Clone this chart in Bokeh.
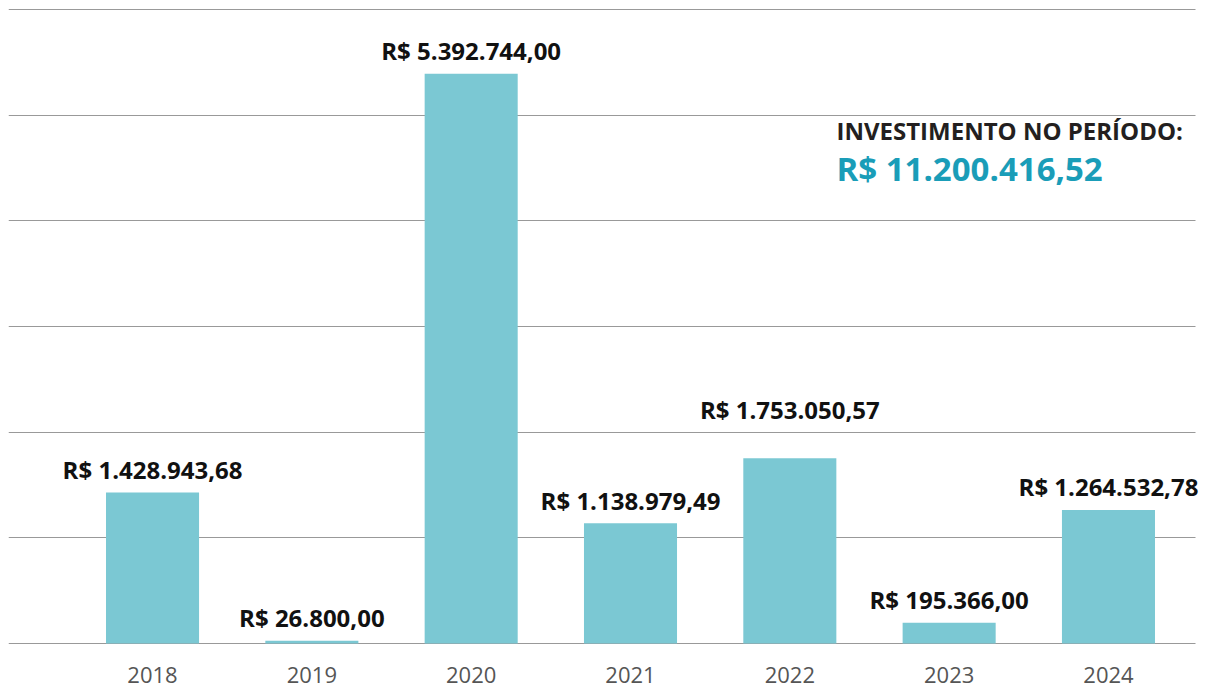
from bokeh.plotting import figure
from bokeh.models import ColumnDataSource, FixedTicker, Label
from bokeh.embed import file_html
from bokeh.resources import INLINE

years = [2018, 2019, 2020, 2021, 2022, 2023, 2024]
values = [1428943.68, 26800.00, 5392744.00, 1138979.49, 1753050.57, 195366.00, 1264532.78]
labels = ["R$ 1.428.943,68", "R$ 26.800,00", "R$ 5.392.744,00", "R$ 1.138.979,49",
          "R$ 1.753.050,57", "R$ 195.366,00", "R$ 1.264.532,78"]
grid_ticks = [0, 1000000, 2000000, 3000000, 4000000, 5000000, 6000000]
total_title = "INVESTIMENTO NO PERÍODO:"
total_value = "R$ 11.200.416,52"

FONT = "Open Sans"
px = 6000000 / 634
X0, X_GRID_END, X1 = 2017.096, 2024.547, 2024.609

p = figure(width=1205, height=691, output_backend="svg", toolbar_location=None,
           x_range=(X0, X1), y_range=(-px, 6000000 + px),
           min_border_left=8, min_border_right=0, min_border_top=8, min_border_bottom=47)
p.outline_line_color = None
p.background_fill_color = "white"
p.border_fill_color = "white"

src = ColumnDataSource(dict(x=years, top=values, label=labels))
p.vbar(x="x", top="top", bottom=0, width=0.584, source=src,
       fill_color="#7BC8D3", line_color=None)

for yr, v, lab in zip(years, values, labels):
    off = 49 if yr == 2022 else 23
    p.add_layout(Label(x=yr, y=v, text=lab, text_align="center", text_baseline="alphabetic",
                       y_offset=off, text_font=FONT, text_font_style="bold",
                       text_font_size="24px", text_color="#111111"))

p.yaxis.visible = False
p.ygrid.ticker = FixedTicker(ticks=grid_ticks)
p.ygrid.cross_bounds = (X0, X_GRID_END)
p.ygrid.grid_line_color = "#999999"
p.ygrid.grid_line_width = 1
p.ygrid.level = "underlay"
p.xgrid.visible = False

p.xaxis.ticker = FixedTicker(ticks=years)
p.xaxis.axis_line_color = None
p.xaxis.major_tick_line_color = None
p.xaxis.minor_tick_line_color = None
p.xaxis.major_label_text_font = FONT
p.xaxis.major_label_text_font_size = "22px"
p.xaxis.major_label_text_color = "#555555"
p.xaxis.major_label_standoff = 16

p.add_layout(Label(x=828, y=514, x_units="screen", y_units="screen", text=total_title,
                   text_font=FONT, text_font_style="bold", text_font_size="24px",
                   text_color="#231F20", text_baseline="alphabetic"))
p.add_layout(Label(x=828, y=476, x_units="screen", y_units="screen", text=total_value,
                   text_font=FONT, text_font_style="bold", text_font_size="33px",
                   text_color="#1A9DB8", text_baseline="alphabetic"))

open("out.html", "w").write(file_html(p, INLINE))
